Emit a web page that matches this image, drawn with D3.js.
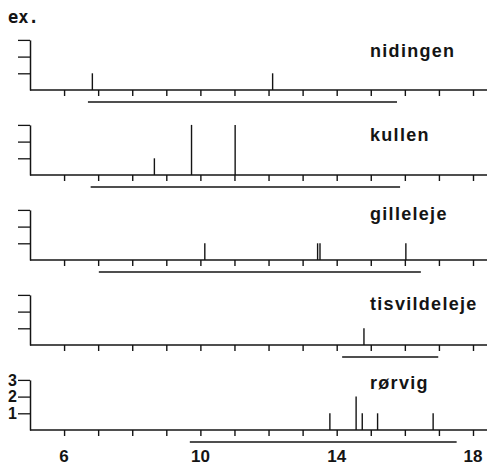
<!DOCTYPE html>
<html>
<head>
<meta charset="utf-8">
<script src="https://cdn.jsdelivr.net/npm/d3@7"></script>
<style>
  body { margin: 0; background: #fff; }
  svg { display: block; }
</style>
</head>
<body>
<div id="chart"></div>
<script>
// stations, top to bottom
var sites = ["nidingen", "kullen", "gilleleje", "tisvildeleje", "rørvig"];
// size of each caught specimen and how many (ex.)
var catchSizes = [
    [6.83, 12.12],
    [8.65, 9.74, 11.02],
    [10.13, 13.44, 13.51, 16.03],
    [14.80],
    [13.80, 14.57, 14.75, 15.20, 16.83]
];
var catchCounts = [
    [1, 1],
    [1, 3, 3],
    [1, 1, 1, 1],
    [1],
    [1, 2, 1, 1, 1]
];
// range line under each panel
var rangeStart = [6.70, 6.78, 7.02, 14.16, 9.69];
var rangeEnd = [15.77, 15.86, 16.47, 16.98, 17.52];
var xTicks = [6, 7, 8, 9, 10, 11, 12, 13, 14, 15, 16, 17, 18];
var xTickLabels = [6, 10, 14, 18];
var yTicks = [1, 2, 3];

var width = 487;
var height = 469;
var panelStep = 85;
var firstBase = 90;
var unitH = 16.7;
var labelDy = [-33, -34, -40, -35, -41];
var ink = "#141414";

var svg = d3.select("#chart")
    .append("svg")
    .attr("width", width)
    .attr("height", height);

var x = d3.scaleLinear().domain([5, 18]).range([30, 473]);

svg.append("text")
    .attr("x", 8)
    .attr("y", 23)
    .style("font-family", "DejaVu Sans Mono")
    .style("font-weight", "bold")
    .style("font-size", "17px")
    .style("fill", ink)
    .text("ex.");

sites.forEach(function (site, i) {
    var base = firstBase + i * panelStep;
    var y = d3.scaleLinear().domain([0, 3]).range([base, base - 3 * unitH]);
    var g = svg.append("g");

    // baseline runs to the page edge
    g.append("line")
        .attr("x1", x(5)).attr("x2", width)
        .attr("y1", base).attr("y2", base)
        .attr("stroke", ink).attr("stroke-width", 1.5);

    var xAxis = d3.axisBottom(x)
        .tickValues(xTicks)
        .tickSize(6)
        .tickFormat("");
    g.append("g")
        .attr("transform", "translate(0," + base + ")")
        .call(xAxis)
        .call(function (s) { s.select(".domain").remove(); })
        .selectAll("line").attr("stroke", ink).attr("stroke-width", 1.4);

    var last = i === sites.length - 1;
    var yAxis = d3.axisLeft(y)
        .tickValues(yTicks)
        .tickSize(12)
        .tickSizeOuter(0)
        .tickPadding(1)
        .tickFormat(last ? d3.format("d") : "");
    var ya = g.append("g")
        .attr("transform", "translate(" + x(5) + ",0)")
        .call(yAxis);
    ya.select(".domain").attr("stroke", ink).attr("stroke-width", 1.5);
    ya.selectAll(".tick line").attr("stroke", ink).attr("stroke-width", 1.3);
    ya.selectAll(".tick text")
        .style("font-family", "Liberation Sans")
        .style("font-weight", "bold")
        .style("font-size", "16px")
        .style("fill", ink);

    // catch bars
    g.selectAll(".bar")
        .data(catchSizes[i])
        .enter()
        .append("line")
        .attr("class", "bar")
        .attr("x1", function (d) { return x(d); })
        .attr("x2", function (d) { return x(d); })
        .attr("y1", y(0))
        .attr("y2", function (d, j) { return y(catchCounts[i][j]); })
        .attr("stroke", ink)
        .attr("stroke-width", 1.4);

    // range line
    g.append("line")
        .attr("x1", x(rangeStart[i])).attr("x2", x(rangeEnd[i]))
        .attr("y1", base + 12).attr("y2", base + 12)
        .attr("stroke", ink).attr("stroke-width", 1.5);

    g.append("text")
        .attr("x", 370)
        .attr("y", base + labelDy[i])
        .style("font-family", "Liberation Sans")
        .style("font-weight", "bold")
        .style("font-size", "18px")
        .style("letter-spacing", "1.3px")
        .style("fill", ink)
        .text(site);

    if (last) {
        g.selectAll(".xlab")
            .data(xTickLabels)
            .enter()
            .append("text")
            .attr("class", "xlab")
            .attr("x", function (d) { return x(d); })
            .attr("y", base + 32)
            .attr("text-anchor", "middle")
            .style("font-family", "Liberation Sans")
            .style("font-weight", "bold")
            .style("font-size", "17px")
            .style("fill", ink)
            .text(function (d) { return d; });
    }
});
</script>
</body>
</html>
